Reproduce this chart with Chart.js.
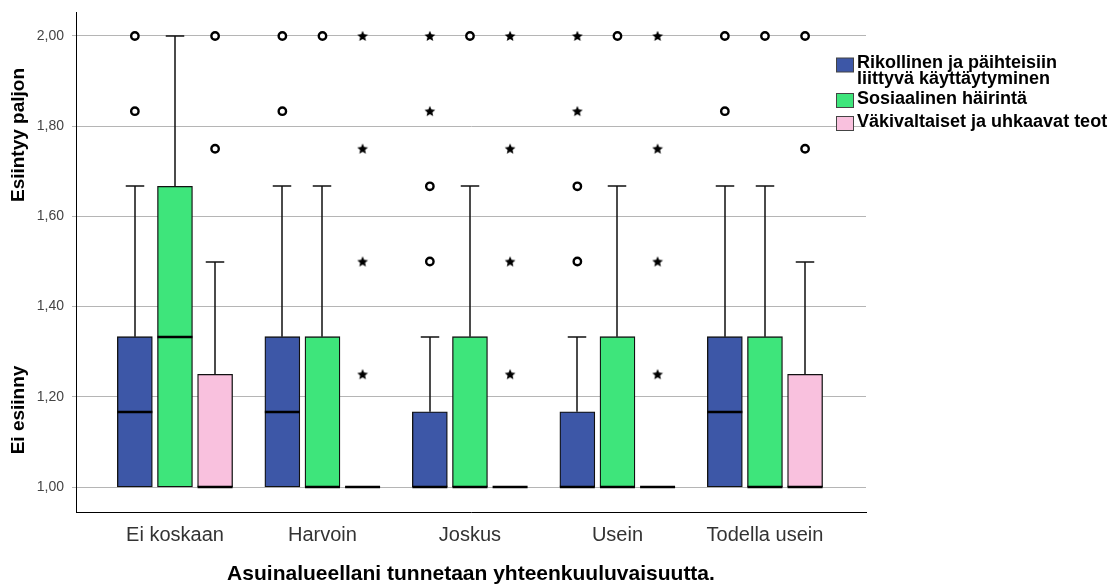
<!DOCTYPE html>
<html><head><meta charset="utf-8">
<script src="https://cdn.jsdelivr.net/npm/chart.js@4.4.1/dist/chart.umd.min.js"></script>
<style>html,body{margin:0;padding:0;background:#fff;}</style>
</head><body>
<canvas id="c" width="1110" height="587"></canvas>
<script>
// ---------- DATA ----------
const categories = ['Ei koskaan', 'Harvoin', 'Joskus', 'Usein', 'Todella usein'];
const seriesNames = ['Rikollinen ja päihteisiin liittyvä käyttäytyminen', 'Sosiaalinen häirintä', 'Väkivaltaiset ja uhkaavat teot'];
const legendLines = [['Rikollinen ja päihteisiin', 'liittyvä käyttäytyminen'], ['Sosiaalinen häirintä'], ['Väkivaltaiset ja uhkaavat teot']];
const yTickValues = [1.0, 1.2, 1.4, 1.6, 1.8, 2.0];
const yTitleTop = 'Esiintyy paljon';
const yTitleBottom = 'Ei esiinny';
const xTitle = 'Asuinalueellani tunnetaan yhteenkuuluvaisuutta.';

// Rikollinen ja päihteisiin liittyvä käyttäytyminen
const rikQ1      = [1.0, 1.0, 1.0, 1.0, 1.0];
const rikMedian  = [1.1667, 1.1667, 1.0, 1.0, 1.1667];
const rikQ3      = [1.3333, 1.3333, 1.1667, 1.1667, 1.3333];
const rikLow     = [1.0, 1.0, 1.0, 1.0, 1.0];
const rikHigh    = [1.6667, 1.6667, 1.3333, 1.3333, 1.6667];
const rikOutliers = [[2.0, 1.8333], [2.0, 1.8333], [1.6667, 1.5], [1.6667, 1.5], [2.0, 1.8333]];
const rikExtremes = [[], [], [2.0, 1.8333], [2.0, 1.8333], []];

// Sosiaalinen häirintä
const sosQ1      = [1.0, 1.0, 1.0, 1.0, 1.0];
const sosMedian  = [1.3333, 1.0, 1.0, 1.0, 1.0];
const sosQ3      = [1.6667, 1.3333, 1.3333, 1.3333, 1.3333];
const sosLow     = [1.0, 1.0, 1.0, 1.0, 1.0];
const sosHigh    = [2.0, 1.6667, 1.6667, 1.6667, 1.6667];
const sosOutliers = [[], [2.0], [2.0], [2.0], [2.0]];
const sosExtremes = [[], [], [], [], []];

// Väkivaltaiset ja uhkaavat teot
const vakQ1      = [1.0, 1.0, 1.0, 1.0, 1.0];
const vakMedian  = [1.0, 1.0, 1.0, 1.0, 1.0];
const vakQ3      = [1.25, 1.0, 1.0, 1.0, 1.25];
const vakLow     = [1.0, 1.0, 1.0, 1.0, 1.0];
const vakHigh    = [1.5, 1.0, 1.0, 1.0, 1.5];
const vakOutliers = [[2.0, 1.75], [], [], [], [2.0, 1.75]];
const vakExtremes = [[], [2.0, 1.75, 1.5, 1.25], [2.0, 1.75, 1.5, 1.25], [2.0, 1.75, 1.5, 1.25], []];

// ---------- STYLE ----------
const boxColors = ['#3d57a7', '#3ee57b', '#f9c1de'];
const offsets = [-0.272, 0, 0.272];
const FONT = '"Liberation Sans", Arial, sans-serif';

const stats = [
  {q1: rikQ1, med: rikMedian, q3: rikQ3, lo: rikLow, hi: rikHigh, out: rikOutliers, ext: rikExtremes},
  {q1: sosQ1, med: sosMedian, q3: sosQ3, lo: sosLow, hi: sosHigh, out: sosOutliers, ext: sosExtremes},
  {q1: vakQ1, med: vakMedian, q3: vakQ3, lo: vakLow, hi: vakHigh, out: vakOutliers, ext: vakExtremes}
];

// star marker
function makeStar() {
  const c = document.createElement('canvas');
  c.width = 12; c.height = 12;
  const g = c.getContext('2d');
  g.fillStyle = '#000';
  g.beginPath();
  for (let k = 0; k < 10; k++) {
    const r = k % 2 === 0 ? 5.6 : 2.6;
    const a = -Math.PI / 2 + k * Math.PI / 5;
    const px = 6 + r * Math.cos(a), py = 6.4 + r * Math.sin(a);
    if (k === 0) g.moveTo(px, py); else g.lineTo(px, py);
  }
  g.closePath(); g.fill();
  return c;
}
const starImg = makeStar();

const boxDatasets = stats.map((s, k) => ({
  type: 'bar',
  label: seriesNames[k],
  data: categories.map((c, i) => ({x: i + offsets[k], y: [s.q1[i], s.q3[i]]})),
  backgroundColor: boxColors[k],
  borderColor: '#111',
  borderWidth: 1.3,
  borderSkipped: false,
  barThickness: 35,
  grouped: false,
  order: 3
}));

const circlePts = [], starPts = [];
stats.forEach((s, k) => {
  categories.forEach((c, i) => {
    s.out[i].forEach(v => circlePts.push({x: i + offsets[k], y: v}));
    s.ext[i].forEach(v => starPts.push({x: i + offsets[k], y: v}));
  });
});

const outlierDatasets = [
  {type: 'scatter', label: 'outliers', data: circlePts, pointStyle: 'circle', pointRadius: 3.7,
   pointBorderWidth: 2.4, pointBorderColor: '#000', pointBackgroundColor: '#fff', order: 1},
  {type: 'scatter', label: 'extremes', data: starPts, pointStyle: starImg, pointRadius: 6, order: 1}
];

const boxPlugin = {
  id: 'boxParts',
  afterDatasetsDraw(chart) {
    const ctx = chart.ctx, y = chart.scales.y;
    ctx.save();
    stats.forEach((s, k) => {
      const meta = chart.getDatasetMeta(k);
      meta.data.forEach((bar, i) => {
        const cx = Math.round(bar.x);
        const half = bar.width / 2;
        ctx.strokeStyle = '#111';
        ctx.lineWidth = 1.5;
        // upper whisker
        if (s.hi[i] > s.q3[i]) {
          const y0 = y.getPixelForValue(s.q3[i]), y1 = Math.round(y.getPixelForValue(s.hi[i]));
          ctx.beginPath(); ctx.moveTo(cx, y0); ctx.lineTo(cx, y1);
          ctx.moveTo(cx - half / 2 - 0.5, y1); ctx.lineTo(cx + half / 2 + 0.5, y1); ctx.stroke();
        }
        // lower whisker
        if (s.lo[i] < s.q1[i]) {
          const y0 = y.getPixelForValue(s.q1[i]), y1 = Math.round(y.getPixelForValue(s.lo[i]));
          ctx.beginPath(); ctx.moveTo(cx, y0); ctx.lineTo(cx, y1);
          ctx.moveTo(cx - half / 2 - 0.5, y1); ctx.lineTo(cx + half / 2 + 0.5, y1); ctx.stroke();
        }
        // median
        const ym = Math.round(y.getPixelForValue(s.med[i]));
        ctx.strokeStyle = '#000';
        ctx.lineWidth = 2.5;
        ctx.beginPath(); ctx.moveTo(bar.x - half, ym); ctx.lineTo(bar.x + half, ym); ctx.stroke();
      });
    });
    ctx.restore();
  },
  afterDraw(chart) {
    const ctx = chart.ctx;
    ctx.save();
    // y-axis titles
    ctx.fillStyle = '#000';
    ctx.font = 'bold 19px ' + FONT;
    ctx.textAlign = 'center';
    ctx.textBaseline = 'middle';
    [[yTitleTop, 135], [yTitleBottom, 410]].forEach(([t, cy]) => {
      ctx.save(); ctx.translate(19, cy); ctx.rotate(-Math.PI / 2); ctx.fillText(t, 0, 0); ctx.restore();
    });
    // legend
    ctx.textAlign = 'left';
    ctx.textBaseline = 'alphabetic';
    ctx.font = 'bold 18px ' + FONT;
    const baselines = [68, 104, 127];
    legendLines.forEach((lines, k) => {
      const b = baselines[k];
      const top = b - 10.5 + (k === 0 ? 0.5 : 0);
      ctx.fillStyle = boxColors[k];
      ctx.fillRect(836.5, top, 17, 14);
      ctx.strokeStyle = '#444'; ctx.lineWidth = 1;
      ctx.strokeRect(836.5, top, 17, 14);
      ctx.fillStyle = '#000';
      lines.forEach((ln, j) => ctx.fillText(ln, 857, b + j * 16));
    });
    ctx.restore();
  }
};

new Chart(document.getElementById('c'), {
  type: 'bar',
  data: {datasets: [...boxDatasets, ...outlierDatasets]},
  options: {
    responsive: false,
    animation: false,
    devicePixelRatio: 1,
    layout: {padding: {left: 0, right: 244, top: 12, bottom: 0}},
    plugins: {legend: {display: false}, tooltip: {enabled: false}},
    scales: {
      x: {
        type: 'linear',
        min: -0.671, max: 4.685,
        offset: false,
        afterBuildTicks: sc => { sc.ticks = categories.map((c, i) => ({value: i})); },
        afterFit: sc => { sc.height = 75; sc.paddingLeft = 0; sc.paddingRight = 0; },
        grid: {display: false, drawTicks: false},
        border: {display: true, color: '#000', width: 1},
        ticks: {
          callback: v => categories[v],
          autoSkip: false, maxRotation: 0, padding: 11,
          color: '#333', font: {family: FONT, size: 20}
        },
        title: {display: true, text: xTitle, color: '#000',
                font: {family: FONT, size: 21, weight: 'bold', lineHeight: 1.2},
                padding: {top: 0, bottom: 0}}
      },
      y: {
        type: 'linear',
        min: 0.9446, max: 2.0532,
        afterBuildTicks: sc => { sc.ticks = yTickValues.map(v => ({value: v})); },
        afterFit: sc => { sc.width = 76; sc.paddingTop = 0; sc.paddingBottom = 0; },
        grid: {color: '#b5b5b5', lineWidth: 1, tickLength: 4, drawTicks: true},
        border: {display: true, color: '#000', width: 1},
        ticks: {
          callback: v => Number(v).toFixed(2).replace('.', ','),
          padding: 8, color: '#444', font: {family: FONT, size: 14}
        }
      }
    }
  },
  plugins: [boxPlugin]
});
</script>
</body></html>
